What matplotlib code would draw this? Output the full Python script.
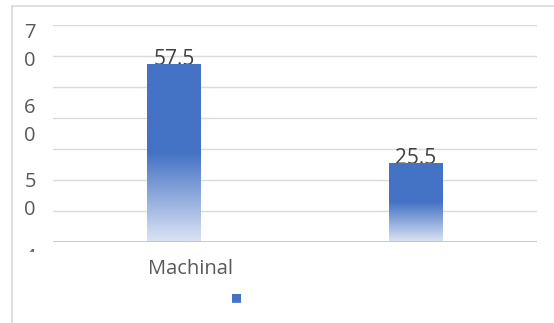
import numpy as np
import matplotlib
matplotlib.use("Agg")
import matplotlib.pyplot as plt
from matplotlib.colors import LinearSegmentedColormap
from matplotlib.lines import Line2D
from matplotlib.patches import Rectangle

categories = ["Machinal", ""]
values = [57.5, 25.5]
value_labels = ["57.5", "25.5"]
ytick_texts = ["7\n0", "6\n0", "5\n0", "4"]

W, H = 554, 323
fig = plt.figure(figsize=(W / 100, H / 100), dpi=100)
plt.rcParams['font.family'] = ['Open Sans', 'DejaVu Sans']

def fx(px):
    return px / W

def fy(py):
    return 1 - py / H

ax = fig.add_axes([fx(53), fy(242), fx(537) - fx(53), fy(25) - fy(242)])
ax.set_xlim(-0.5, 1.5)
ax.set_ylim(0, 70)
for s in ax.spines.values():
    s.set_visible(False)
ax.set_xticks([])
ax.set_yticks([])
for g in range(10, 71, 10):
    ax.axhline(g, color="#DADADA", lw=1.0, zorder=0)
ax.axhline(0, color="#BFBFBF", lw=1.2, zorder=3)

cmap = LinearSegmentedColormap.from_list(
    "g", [(0, "#DCE4F4"), (0.5, "#4472C4"), (1.0, "#4472C4")])
grad = np.linspace(0, 1, 256).reshape(-1, 1)

bw = 0.223
bars = ax.bar(range(len(values)), values, width=bw, color="none", zorder=2)
for b, v, lab in zip(bars, values, value_labels):
    x0 = b.get_x()
    ax.text(x0 + bw / 2, v - 2.0, lab, ha="center", va="bottom",
            fontsize=15, color="#404040", zorder=1)
    im = ax.imshow(grad, extent=[x0, x0 + bw, 0, v], origin="lower",
                   cmap=cmap, aspect="auto", zorder=2)
    im.set_clip_path(b)
ax.set_xlim(-0.5, 1.5)
ax.set_ylim(0, 70)

# category label
fig.text(fx(190), fy(269), categories[0], ha="center", va="center",
         fontsize=14.5, color="#595959")

# y tick texts (wrapped)
ycent = [47, 122, 196]
for t, yc in zip(ytick_texts[:3], ycent):
    fig.text(fx(30), fy(yc), t, ha="center", va="center", fontsize=14.5,
             color="#595959", linespacing=1.55)
clip = Rectangle((0, fy(252)), fx(60), fy(240) - fy(252),
                 transform=fig.transFigure, visible=False)
fig.add_artist(clip)
t4 = fig.text(fx(30), fy(248), ytick_texts[3], ha="center", va="top",
              fontsize=14.5, color="#595959")
t4.set_clip_path(clip)

# legend marker
leg = fig.add_axes([fx(232), fy(303), fx(9), fy(294) - fy(303)])
leg.imshow(grad, origin="lower", cmap=cmap, aspect="auto",
           vmin=-0.6, vmax=1.0)
leg.axis("off")

# outer border
fig.add_artist(Line2D([fx(12), fx(12)], [fy(6), 0], color="#D9D9D9", lw=1.2))
fig.add_artist(Line2D([fx(12), 1], [fy(6), fy(6)], color="#D9D9D9", lw=1.2))

fig.savefig("out.png", dpi=100)
